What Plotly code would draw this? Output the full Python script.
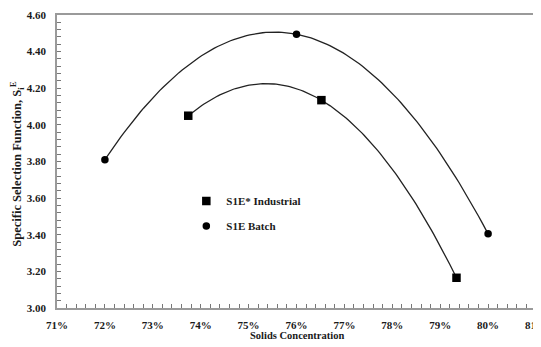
import numpy as np
import plotly.graph_objects as go

# Data
industrial_x = [0.7374, 0.7652, 0.7934]
industrial_y = [4.05, 4.135, 3.165]
batch_x = [0.72, 0.76, 0.80]
batch_y = [3.81, 4.495, 3.405]

series_names = ["S1E* Industrial", "S1E Batch"]

FONT = "Liberation Serif"
TXT = "#1a1a1a"


def poly2_trend(xs, ys, n=120):
    """2nd-order polynomial trendline of the data (as in the original spreadsheet chart)."""
    coef = np.polyfit(xs, ys, 2)
    xx = np.linspace(min(xs), max(xs), n)
    return xx, np.polyval(coef, xx)


fig = go.Figure()

for xs, ys in [(industrial_x, industrial_y), (batch_x, batch_y)]:
    tx, ty = poly2_trend(xs, ys)
    fig.add_trace(go.Scatter(x=tx, y=ty, mode="lines",
                             line=dict(color="#222222", width=1.3),
                             showlegend=False, hoverinfo="skip"))

# Data markers
fig.add_trace(go.Scatter(x=industrial_x, y=industrial_y, mode="markers", name=series_names[0],
                         legendgroup="a",
                         marker=dict(symbol="square", size=8.5, color="black")))
fig.add_trace(go.Scatter(x=batch_x, y=batch_y, mode="markers", name=series_names[1],
                         legendgroup="b",
                         marker=dict(symbol="circle", size=7.5, color="black")))

fig.update_layout(
    width=533, height=339,
    margin=dict(l=49, r=5, t=7, b=39),
    paper_bgcolor="white", plot_bgcolor="white",
    font=dict(family=FONT, size=11, color=TXT),
    legend=dict(x=0.27, y=0.415, xanchor="left", yanchor="top",
                bgcolor="rgba(0,0,0,0)", traceorder="grouped", tracegroupgap=6,
                font=dict(family=FONT, size=11, color=TXT, weight="bold"),
                itemwidth=30),
    showlegend=True,
    annotations=[
        dict(text="<b>Solids Concentration</b>", xref="paper", yref="paper",
             x=0.5, y=-0.095, xanchor="center", yanchor="middle", showarrow=False,
             font=dict(family=FONT, size=10.5, color=TXT)),
        dict(text="<b>Specific Selection Function, S<sub>i</sub><sup>E</sup></b>",
             xref="paper", yref="paper", x=-0.083, y=0.49, xanchor="center", yanchor="middle",
             textangle=-90, showarrow=False,
             font=dict(family=FONT, size=12.5, color=TXT)),
    ],
)

fig.update_xaxes(
    range=[0.7099999, 0.8100001], tick0=0.71, dtick=0.01, tickformat=".0%", automargin=False,
    ticklabeloverflow="allow",
    showline=True, linecolor="#9a9a9a", linewidth=1.5, mirror=True,
    ticks="inside", ticklen=4, tickcolor="#777", ticklabelstandoff=6,
    minor=dict(dtick=0.002, ticks="inside", ticklen=4, tickcolor="#777"),
    showgrid=False, zeroline=False,
    tickfont=dict(family=FONT, size=11, color=TXT, weight="bold"),
)
fig.update_yaxes(
    range=[3.0, 4.6], dtick=0.2, tickformat=".2f", automargin=False,
    showline=True, linecolor="#9a9a9a", linewidth=1.5, mirror=True,
    ticks="inside", ticklen=4, tickcolor="#777", ticklabelstandoff=7,
    minor=dict(dtick=0.04, ticks="inside", ticklen=4, tickcolor="#777"),
    showgrid=False, zeroline=False,
    tickfont=dict(family=FONT, size=11, color=TXT, weight="bold"),
)

fig.write_html("out.html")
